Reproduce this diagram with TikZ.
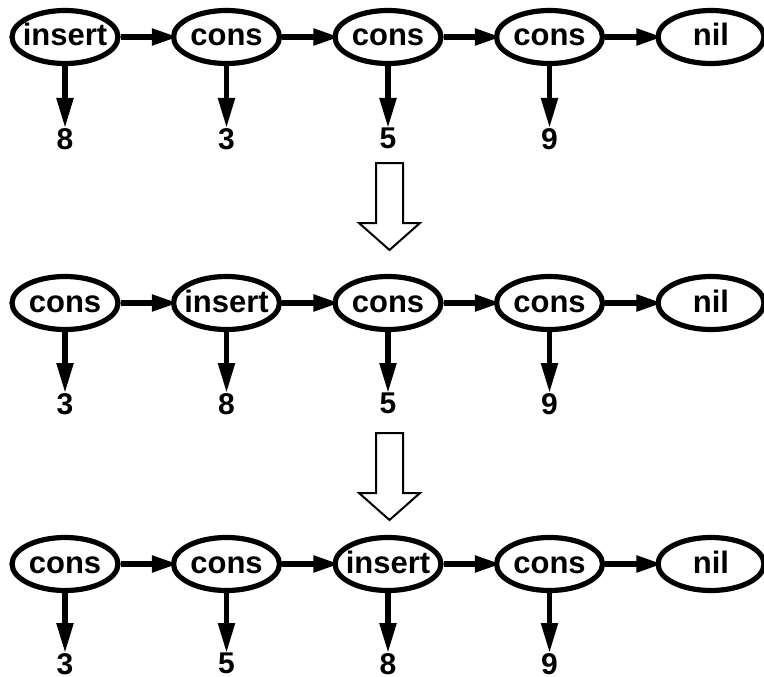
\documentclass[tikz,border=0pt]{standalone}
\usepackage{fontspec}
\setmainfont{Liberation Sans}
\usetikzlibrary{shapes.geometric,arrows.meta}
\newcommand{\tx}[1]{\makebox[0pt]{#1}}
\begin{document}
\begin{tikzpicture}[x=1pt,y=-1pt,
  term/.style={ellipse,draw,line width=5.2pt,minimum width=106pt,minimum height=53pt,inner sep=0pt,text height=18pt,text depth=0pt,font=\fontsize{31}{31}\selectfont\bfseries},
  num/.style={inner sep=0pt,anchor=north,font=\fontsize{30}{30}\selectfont\bfseries},
  harr/.style={line width=5.2pt,shorten >=-7pt,-{Triangle[length=26pt,width=16pt]}},
  varr/.style={line width=5.2pt,-{Triangle[length=30pt,width=16pt]}},
  bigarrow/.style={draw,line width=2pt,fill=white,line join=miter}]
\useasboundingbox (0,0) rectangle (764,677);
\def\xa{65}\def\xb{226.5}\def\xc{388}\def\xd{549.5}\def\xe{711}
% Row 1
\node[term] (a1) at (\xa,37) {\tx{insert}};
\node[term] (b1) at (\xb,37) {\tx{cons}};
\node[term] (c1) at (\xc,37) {\tx{cons}};
\node[term] (d1) at (\xd,37) {\tx{cons}};
\node[term] (e1) at (\xe,37) {\tx{nil}};
\node[num] (na1) at (\xa,128) {8};
\node[num] (nb1) at (\xb,128) {3};
\node[num] (nc1) at (\xc,128) {5};
\node[num] (nd1) at (\xd,128) {9};
\draw[harr] (a1) -- (b1);
\draw[harr] (b1) -- (c1);
\draw[harr] (c1) -- (d1);
\draw[harr] (d1) -- (e1);
\draw[varr] (a1.south) -- (na1.north);
\draw[varr] (b1.south) -- (nb1.north);
\draw[varr] (c1.south) -- (nc1.north);
\draw[varr] (d1.south) -- (nd1.north);
% big arrow 1
\draw[bigarrow] (376,163) -- (403,163) -- (403,223) -- (420,223) -- (389.5,250) -- (359,223) -- (376,223) -- cycle;
% Row 2
\node[term] (a2) at (\xa,303) {\tx{cons}};
\node[term] (b2) at (\xb,303) {\tx{insert}};
\node[term] (c2) at (\xc,303) {\tx{cons}};
\node[term] (d2) at (\xd,303) {\tx{cons}};
\node[term] (e2) at (\xe,303) {\tx{nil}};
\node[num] (na2) at (\xa,393) {3};
\node[num] (nb2) at (\xb,393) {8};
\node[num] (nc2) at (\xc,393) {5};
\node[num] (nd2) at (\xd,393) {9};
\draw[harr] (a2) -- (b2);
\draw[harr] (b2) -- (c2);
\draw[harr] (c2) -- (d2);
\draw[harr] (d2) -- (e2);
\draw[varr] (a2.south) -- (na2.north);
\draw[varr] (b2.south) -- (nb2.north);
\draw[varr] (c2.south) -- (nc2.north);
\draw[varr] (d2.south) -- (nd2.north);
% big arrow 2
\draw[bigarrow] (376,433) -- (403,433) -- (403,493) -- (420,493) -- (389.5,520) -- (359,493) -- (376,493) -- cycle;
% Row 3
\node[term] (a3) at (\xa,564) {\tx{cons}};
\node[term] (b3) at (\xb,564) {\tx{cons}};
\node[term] (c3) at (\xc,564) {\tx{insert}};
\node[term] (d3) at (\xd,564) {\tx{cons}};
\node[term] (e3) at (\xe,564) {\tx{nil}};
\node[num] (na3) at (\xa,653) {3};
\node[num] (nb3) at (\xb,653) {5};
\node[num] (nc3) at (\xc,653) {8};
\node[num] (nd3) at (\xd,653) {9};
\draw[harr] (a3) -- (b3);
\draw[harr] (b3) -- (c3);
\draw[harr] (c3) -- (d3);
\draw[harr] (d3) -- (e3);
\draw[varr] (a3.south) -- (na3.north);
\draw[varr] (b3.south) -- (nb3.north);
\draw[varr] (c3.south) -- (nc3.north);
\draw[varr] (d3.south) -- (nd3.north);
\end{tikzpicture}
\end{document}
